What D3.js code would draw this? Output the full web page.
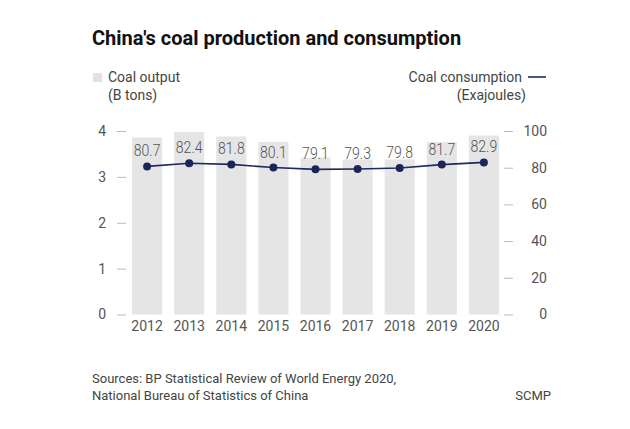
<!DOCTYPE html>
<html><head><meta charset="utf-8">
<script src="https://cdn.jsdelivr.net/npm/d3@7"></script>
<style>
html,body{margin:0;padding:0;background:#fff;}
svg{display:block;font-family:Roboto,"Noto Sans",sans-serif;}
</style></head>
<body>
<svg id="chart" width="630" height="429"></svg>
<script>
const years = ["2012","2013","2014","2015","2016","2017","2018","2019","2020"];
const coalOutput = [3.86, 3.98, 3.88, 3.76, 3.42, 3.38, 3.38, 3.76, 3.90];
const coalConsumption = [80.7, 82.4, 81.8, 80.1, 79.1, 79.3, 79.8, 81.7, 82.9];
const leftTicks = [0, 1, 2, 3, 4];
const rightTicks = [0, 20, 40, 60, 80, 100];

const svg = d3.select("#chart");
const x = d3.scaleBand().domain(years).range([127, 504]).paddingInner(0.285).paddingOuter(0.12);
const yL = d3.scaleLinear().domain([0, 4]).range([314.5, 131]);
const yR = d3.scaleLinear().domain([0, 100]).range([314.5, 131]);

// title
svg.append("text").attr("x", 92).attr("y", 45).attr("font-size", 20).attr("font-weight", 700)
  .attr("fill", "#111").text("China's coal production and consumption");

// legend left
svg.append("rect").attr("x", 93).attr("y", 73).attr("width", 9).attr("height", 9).attr("fill", "#e2e2e2");
svg.append("text").attr("x", 108).attr("y", 82).attr("font-size", 14).attr("fill", "#444").text("Coal output");
svg.append("text").attr("x", 108).attr("y", 100).attr("font-size", 14).attr("fill", "#444").text("(B tons)");
// legend right
svg.append("text").attr("x", 522).attr("y", 82).attr("font-size", 14).attr("fill", "#444").attr("text-anchor", "end").text("Coal consumption");
svg.append("line").attr("x1", 528).attr("x2", 546).attr("y1", 77).attr("y2", 77).attr("stroke", "#1f2a5e").attr("stroke-width", 1.6);
svg.append("text").attr("x", 526).attr("y", 100).attr("font-size", 14).attr("fill", "#444").attr("text-anchor", "end").text("(Exajoules)");

// bars
svg.append("g").selectAll("rect").data(years).join("rect")
  .attr("x", d => x(d)).attr("width", x.bandwidth())
  .attr("y", (d, i) => yL(coalOutput[i])).attr("height", (d, i) => yL(0) - yL(coalOutput[i]))
  .attr("fill", "#e5e5e5");

// left axis
const gl = svg.append("g").attr("transform", "translate(126,0)")
  .call(d3.axisLeft(yL).tickValues(leftTicks).tickSize(9).tickPadding(11).tickFormat(d3.format("d")));
gl.select(".domain").remove();
gl.selectAll("line").attr("stroke", "#bbb");
gl.selectAll("text").attr("font-size", 14).attr("fill", "#555").attr("font-family", "Roboto");

// right axis
const gr = svg.append("g").attr("transform", "translate(504,0)")
  .call(d3.axisRight(yR).tickValues(rightTicks).tickSize(9).tickPadding(0).tickFormat(d3.format("d")));
gr.select(".domain").remove();
gr.selectAll("line").attr("stroke", "#bbb");
gr.selectAll("text").attr("font-size", 14).attr("fill", "#555").attr("font-family", "Roboto")
  .attr("text-anchor", "end").attr("x", 43);

// bottom axis labels
const gb = svg.append("g").attr("transform", "translate(0,314.5)")
  .call(d3.axisBottom(x).tickSize(0).tickPadding(7));
gb.select(".domain").remove();
gb.selectAll("text").attr("font-size", 14).attr("fill", "#555").attr("font-family", "Roboto");

// line
const cx = d => x(d) + x.bandwidth() / 2;
const line = d3.line().x((d, i) => cx(years[i])).y(d => yR(d));
svg.append("path").datum(coalConsumption).attr("d", line).attr("fill", "none")
  .attr("stroke", "#1f2a5e").attr("stroke-width", 1.6);
svg.append("g").selectAll("circle").data(coalConsumption).join("circle")
  .attr("cx", (d, i) => cx(years[i])).attr("cy", d => yR(d)).attr("r", 4).attr("fill", "#1a2559");

// value labels
svg.append("g").selectAll("text").data(coalConsumption).join("text")
  .attr("transform", (d, i) => `translate(${cx(years[i])},${yR(d) - 10}) scale(0.88,1)`)
  .attr("text-anchor", "middle").attr("font-size", 16).attr("font-weight", 300).attr("fill", "#555")
  .text(d => d3.format(".1f")(d));

// footer
svg.append("text").attr("x", 92).attr("y", 383).attr("font-size", 13).attr("fill", "#444")
  .text("Sources: BP Statistical Review of World Energy 2020,");
svg.append("text").attr("x", 92).attr("y", 400).attr("font-size", 13).attr("fill", "#444")
  .text("National Bureau of Statistics of China");
svg.append("text").attr("x", 551).attr("y", 400).attr("font-size", 13).attr("fill", "#444")
  .attr("text-anchor", "end").text("SCMP");
</script>
</body></html>
